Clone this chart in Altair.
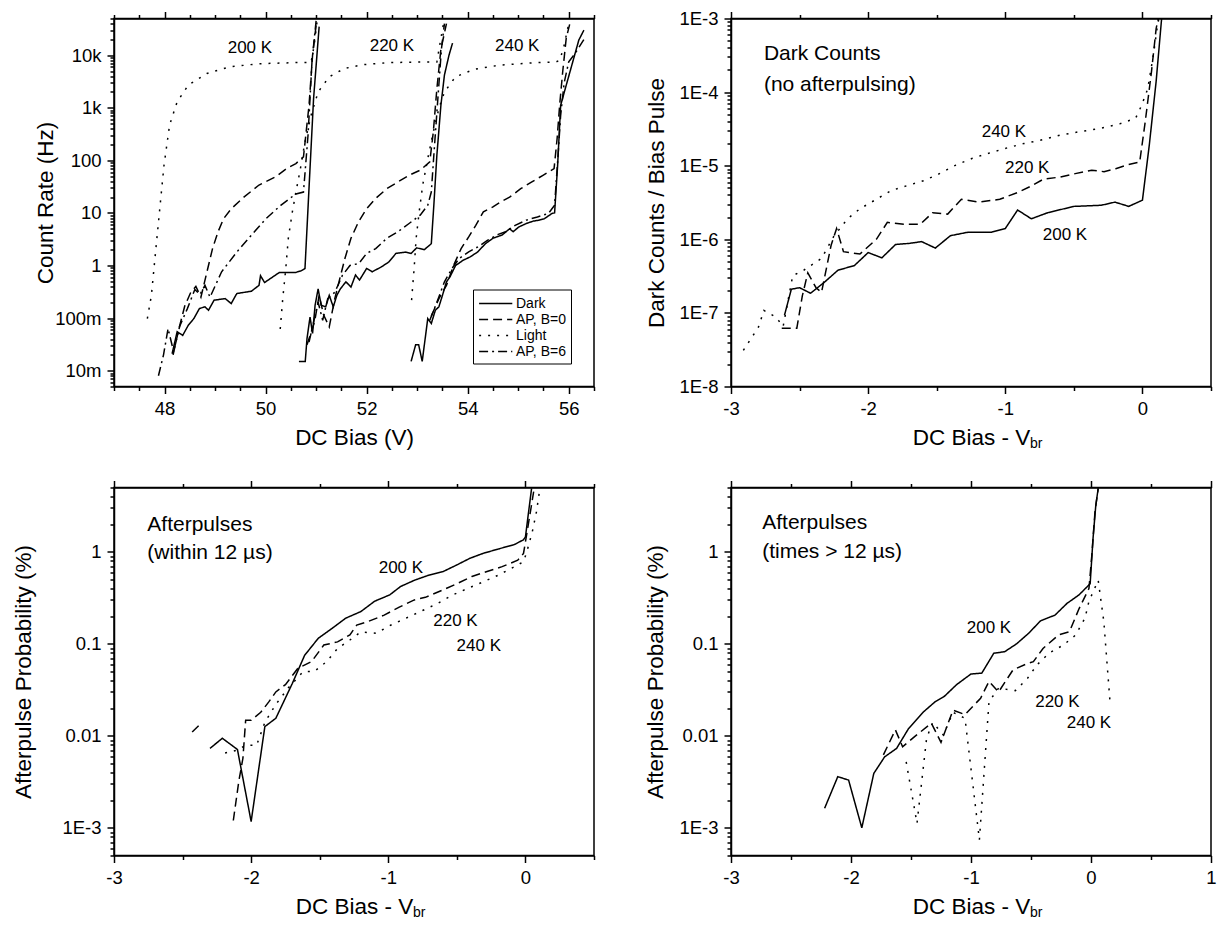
import altair as alt
import pandas as pd

FONT = "Liberation Sans"
W = 480
H = 368

# ---------------- Panel A : Count Rate (Hz) vs DC Bias (V) ----------------
A_DARK_200_X = [48.15, 48.25, 48.36, 48.47, 48.58, 48.69, 48.80, 48.87, 48.98, 49.20, 49.32, 49.43, 49.72, 49.87, 49.90, 49.98, 50.27, 50.60, 50.71, 50.78, 50.86, 50.95, 51.06]
A_DARK_200_Y = [0.021, 0.055, 0.047, 0.073, 0.098, 0.152, 0.164, 0.141, 0.219, 0.235, 0.189, 0.293, 0.325, 0.42, 0.64, 0.475, 0.736, 0.74, 0.80, 0.88, 30, 1500, 35000]
A_APB0_200_X = [48.17, 48.28, 48.40, 48.52, 48.62, 48.72, 48.84, 48.95, 49.06, 49.17, 49.32, 49.57, 49.87, 50.20, 50.42, 50.60, 50.75, 50.86, 50.93, 51.00]
A_APB0_200_Y = [0.02, 0.06, 0.17, 0.31, 0.40, 0.25, 0.76, 2.1, 4.4, 7.8, 12, 20, 34, 49, 70, 87, 117, 1120, 10000, 37000]
A_APB6_200_X = [47.88, 47.98, 48.07, 48.18, 48.30, 48.45, 48.60, 48.70, 48.80, 48.90, 49.13, 49.43, 49.72, 50.01, 50.30, 50.60, 50.75, 50.84, 50.92, 51.00]
A_APB6_200_Y = [0.008, 0.02, 0.063, 0.023, 0.07, 0.15, 0.35, 0.28, 0.42, 0.25, 0.76, 1.8, 3.8, 7.8, 14, 23, 25, 300, 8000, 45000]
A_LIGHT_200_X = [47.66, 47.74, 47.81, 47.90, 47.99, 48.10, 48.25, 48.47, 48.84, 49.28, 49.87, 50.60, 50.90, 50.96, 51.02]
A_LIGHT_200_Y = [0.098, 0.27, 1.36, 10.5, 81, 470, 1300, 2700, 4500, 6000, 6900, 7250, 7300, 15000, 45000]

A_DARK_220_X = [50.66, 50.785, 50.82, 50.88, 50.93, 50.98, 51.04, 51.10, 51.19, 51.26, 51.34, 51.41, 51.48, 51.59, 51.69, 51.78, 51.86, 52.00, 52.11, 52.29, 52.44, 52.58, 52.77, 52.88, 52.99, 53.14, 53.28, 53.33, 53.39, 53.47, 53.54, 53.63, 53.70]
A_DARK_220_Y = [0.015, 0.015, 0.041, 0.105, 0.051, 0.176, 0.36, 0.176, 0.164, 0.27, 0.164, 0.27, 0.36, 0.49, 0.39, 0.66, 0.53, 0.88, 0.76, 0.94, 1.17, 1.7, 1.8, 1.7, 2.17, 2.0, 2.6, 14, 125, 1120, 4200, 10000, 17000]
A_APB0_220_X = [50.82, 50.97, 51.06, 51.15, 51.26, 51.37, 51.47, 51.57, 51.69, 51.84, 52.00, 52.18, 52.40, 52.62, 52.84, 53.06, 53.25, 53.32, 53.39, 53.47, 53.58]
A_APB0_220_Y = [0.031, 0.085, 0.27, 0.114, 0.068, 0.235, 0.57, 1.36, 3.3, 6.8, 12, 19, 29, 39, 52, 65, 94, 350, 2300, 13000, 40000]
A_APB6_220_X = [50.86, 51.04, 51.13, 51.23, 51.37, 51.52, 51.67, 51.85, 52.00, 52.18, 52.40, 52.62, 52.84, 53.06, 53.21, 53.28, 53.33, 53.41, 53.48, 53.54]
A_APB6_220_Y = [0.035, 0.2, 0.091, 0.235, 0.31, 0.65, 1.0, 1.1, 1.7, 2.1, 3.3, 4.4, 6.3, 9.1, 14, 25, 125, 1500, 13000, 40000]
A_LIGHT_220_X = [50.29, 50.34, 50.40, 50.45, 50.53, 50.60, 50.69, 50.78, 50.90, 51.04, 51.26, 51.56, 51.92, 52.44, 53.17, 53.39, 53.47, 53.54]
A_LIGHT_220_Y = [0.062, 0.235, 0.88, 3.3, 10.5, 25, 70, 225, 720, 2000, 3900, 5600, 6600, 7250, 7450, 7450, 21000, 50000]

A_DARK_240_X = [52.88, 52.97, 53.03, 53.10, 53.21, 53.28, 53.36, 53.43, 53.50, 53.58, 53.65, 53.76, 53.91, 54.05, 54.20, 54.35, 54.50, 54.68, 54.83, 54.90, 55.01, 55.16, 55.30, 55.41, 55.52, 55.67, 55.72, 55.78, 55.84, 56.20, 56.30]
A_DARK_240_Y = [0.015, 0.031, 0.031, 0.015, 0.098, 0.079, 0.141, 0.164, 0.27, 0.49, 0.61, 1.0, 1.26, 1.46, 1.82, 2.6, 3.3, 3.8, 5.0, 4.4, 5.4, 6.3, 7.0, 7.3, 7.8, 9.8, 10, 80, 1120, 19500, 30000]
A_APB0_240_X = [53.28, 53.43, 53.58, 53.72, 53.87, 54.02, 54.16, 54.31, 54.50, 54.64, 54.83, 55.05, 55.27, 55.49, 55.71, 55.77, 55.82, 55.88, 55.95, 56.04]
A_APB0_240_Y = [0.11, 0.235, 0.42, 1.0, 2.1, 3.5, 5.8, 10.5, 13, 16, 20, 29, 39, 52, 70, 260, 1120, 4800, 21000, 47000]
A_APB6_240_X = [53.25, 53.39, 53.54, 53.69, 53.83, 54.02, 54.20, 54.39, 54.57, 54.75, 54.94, 55.16, 55.38, 55.60, 55.72, 55.78, 55.84, 55.91, 56.00, 56.10, 56.20, 56.30]
A_APB6_240_Y = [0.091, 0.2, 0.49, 0.88, 1.36, 1.82, 2.26, 3.0, 3.8, 4.4, 5.8, 7.3, 8.4, 9.8, 14, 94, 720, 3000, 7500, 10000, 14000, 20000]
A_LIGHT_240_X = [52.89, 52.94, 52.98, 53.04, 53.11, 53.21, 53.32, 53.43, 53.54, 53.76, 54.13, 54.64, 55.38, 55.74, 55.82, 55.90, 56.00]
A_LIGHT_240_Y = [0.22, 0.88, 3.3, 10.5, 34, 108, 350, 970, 2000, 3900, 5400, 6500, 7250, 7400, 8000, 14000, 40000]

A_LABEL_T = ["200 K", "220 K", "240 K"]
A_LABEL_X = [49.69, 52.50, 54.98]
A_LABEL_Y = [13800, 15000, 15000]
A_STYLES = ["Dark", "AP, B=0", "Light", "AP, B=6"]

# ---------------- Panel B : Dark counts / bias pulse ----------------
B_200_X = [-2.61, -2.56, -2.50, -2.42, -2.32, -2.22, -2.10, -2.00, -1.90, -1.80, -1.70, -1.61, -1.51, -1.40, -1.27, -1.10, -1.00, -0.91, -0.81, -0.69, -0.50, -0.30, -0.20, -0.10, 0.00, 0.05, 0.10, 0.14]
B_200_Y = [9.3e-8, 2.1e-7, 2.2e-7, 1.85e-7, 2.6e-7, 3.8e-7, 4.4e-7, 6.6e-7, 5.6e-7, 8.5e-7, 8.8e-7, 9.3e-7, 7.6e-7, 1.12e-6, 1.25e-6, 1.25e-6, 1.4e-6, 2.5e-6, 1.9e-6, 2.3e-6, 2.8e-6, 2.9e-6, 3.2e-6, 2.8e-6, 3.4e-6, 1.9e-5, 1.4e-4, 1e-3]
B_220_X = [-2.63, -2.52, -2.48, -2.44, -2.38, -2.34, -2.27, -2.23, -2.18, -2.06, -1.94, -1.86, -1.74, -1.62, -1.53, -1.42, -1.32, -1.19, -1.04, -0.90, -0.81, -0.72, -0.60, -0.49, -0.37, -0.28, -0.195, -0.107, -0.02, 0.02, 0.066, 0.10, 0.12]
B_220_Y = [6.2e-8, 6.2e-8, 1.7e-7, 3.5e-7, 2.2e-7, 1.9e-7, 8.3e-7, 1.4e-6, 6.8e-7, 6.3e-7, 1.0e-6, 1.7e-6, 1.6e-6, 1.6e-6, 2.3e-6, 2.2e-6, 3.5e-6, 3.2e-6, 3.5e-6, 4.4e-6, 5.3e-6, 6.6e-6, 7.0e-6, 7.8e-6, 8.7e-6, 8.3e-6, 9.1e-6, 1.03e-5, 1.12e-5, 3.9e-5, 1.9e-4, 7.3e-4, 1.1e-3]
B_240_X = [-2.91, -2.80, -2.76, -2.67, -2.62, -2.55, -2.47, -2.34, -2.25, -2.15, -2.06, -1.94, -1.83, -1.71, -1.59, -1.48, -1.36, -1.24, -1.13, -1.01, -0.865, -0.75, -0.60, -0.457, -0.31, -0.166, -0.05, -0.006, 0.038, 0.08, 0.11, 0.125]
B_240_Y = [3.1e-8, 6.4e-8, 1.08e-7, 8.7e-8, 6.5e-8, 3.2e-7, 3.8e-7, 5.5e-7, 1.1e-6, 1.9e-6, 2.6e-6, 3.5e-6, 4.6e-6, 5.4e-6, 6.3e-6, 7.8e-6, 1.02e-5, 1.26e-5, 1.46e-5, 1.7e-5, 2.0e-5, 2.2e-5, 2.6e-5, 2.9e-5, 3.2e-5, 3.7e-5, 4.4e-5, 6.6e-5, 1.1e-4, 3.2e-4, 8.1e-4, 1.1e-3]
B_LABEL_T = ["240 K", "220 K", "200 K"]
B_LABEL_X = [-1.01, -0.84, -0.565]
B_LABEL_Y = [2.9e-5, 9.3e-6, 1.15e-6]
B_NOTE_T = ["Dark Counts", "(no afterpulsing)"]
B_NOTE_X = [-2.76, -2.76]
B_NOTE_Y = [3.3e-4, 1.23e-4]

# ---------------- Panel C : Afterpulses within 12 us ----------------
C_200_X = [-2.30, -2.21, -2.10, -2.00, -1.90, -1.82, -1.70, -1.61, -1.51, -1.41, -1.31, -1.20, -1.10, -0.99, -0.91, -0.81, -0.70, -0.60, -0.50, -0.405, -0.31, -0.20, -0.08, -0.015, 0.00, 0.02, 0.045]
C_200_Y = [7.3e-3, 9.4e-3, 7.1e-3, 1.17e-3, 0.0126, 0.0155, 0.037, 0.075, 0.115, 0.147, 0.19, 0.224, 0.29, 0.34, 0.42, 0.49, 0.56, 0.61, 0.72, 0.85, 0.96, 1.07, 1.2, 1.35, 1.45, 2.5, 4.9]
C_220A_X = [-2.43, -2.38]
C_220A_Y = [0.011, 0.013]
C_220_X = [-2.13, -2.09, -2.06, -2.04, -2.00, -1.93, -1.87, -1.82, -1.75, -1.66, -1.56, -1.47, -1.37, -1.28, -1.23, -1.15, -1.03, -0.92, -0.81, -0.73, -0.61, -0.50, -0.39, -0.28, -0.17, -0.056, -0.014, 0.00, 0.04, 0.06]
C_220_Y = [1.2e-3, 3.2e-3, 5.7e-3, 0.0148, 0.0148, 0.018, 0.0235, 0.03, 0.036, 0.054, 0.064, 0.097, 0.105, 0.125, 0.16, 0.174, 0.205, 0.25, 0.30, 0.32, 0.38, 0.45, 0.54, 0.61, 0.69, 0.81, 0.96, 1.28, 2.95, 4.5]
C_240_X = [-2.19, -2.10, -2.04, -1.96, -1.90, -1.82, -1.73, -1.62, -1.54, -1.45, -1.37, -1.28, -1.20, -1.09, -0.98, -0.87, -0.75, -0.64, -0.53, -0.42, -0.31, -0.195, -0.08, -0.014, 0.01, 0.05, 0.08, 0.10]
C_240_Y = [6.5e-3, 7.0e-3, 7.9e-3, 7.9e-3, 0.014, 0.022, 0.033, 0.05, 0.05, 0.064, 0.089, 0.11, 0.135, 0.13, 0.16, 0.19, 0.23, 0.275, 0.34, 0.40, 0.47, 0.56, 0.69, 0.78, 1.0, 1.65, 2.7, 4.3]
C_LABEL_T = ["200 K", "220 K", "240 K"]
C_LABEL_X = [-0.908, -0.51, -0.34]
C_LABEL_Y = [0.66, 0.178, 0.095]
C_NOTE_T = ["Afterpulses", "(within 12 \u00b5s)"]
C_NOTE_X = [-2.757, -2.757]
C_NOTE_Y = [1.95, 0.96]

# ---------------- Panel D : Afterpulses times > 12 us ----------------
D_200_X = [-2.22, -2.11, -2.02, -1.91, -1.81, -1.72, -1.62, -1.52, -1.40, -1.30, -1.22, -1.12, -1.00, -0.91, -0.81, -0.72, -0.62, -0.52, -0.42, -0.30, -0.20, -0.10, -0.007, 0.017, 0.04, 0.06]
D_200_Y = [1.63e-3, 3.6e-3, 3.3e-3, 1.0e-3, 3.9e-3, 5.9e-3, 7.3e-3, 0.012, 0.018, 0.0234, 0.027, 0.036, 0.047, 0.048, 0.079, 0.082, 0.10, 0.13, 0.178, 0.205, 0.275, 0.34, 0.45, 1.4, 3.2, 4.9]
D_220_X = [-1.73, -1.63, -1.57, -1.47, -1.33, -1.25, -1.15, -1.05, -0.92, -0.85, -0.77, -0.65, -0.53, -0.48, -0.40, -0.27, -0.18, -0.10, -0.017, 0.007, 0.033, 0.06]
D_220_Y = [6.2e-3, 0.0116, 7.6e-3, 9.8e-3, 0.0137, 8.5e-3, 0.019, 0.017, 0.0256, 0.039, 0.030, 0.052, 0.061, 0.064, 0.089, 0.125, 0.135, 0.24, 0.40, 0.92, 2.7, 4.9]
D_240_X = [-1.54, -1.45, -1.37, -1.32, -1.23, -1.15, -1.05, -0.93, -0.85, -0.77, -0.63, -0.53, -0.45, -0.35, -0.23, -0.13, -0.05, -0.017, 0.06, 0.107, 0.16]
D_240_Y = [5.2e-3, 1.12e-3, 9.4e-3, 0.014, 0.0102, 0.018, 0.0155, 7.4e-4, 0.0235, 0.033, 0.031, 0.042, 0.059, 0.079, 0.097, 0.124, 0.19, 0.29, 0.49, 0.174, 0.022]
D_LABEL_T = ["200 K", "220 K", "240 K"]
D_LABEL_X = [-0.85, -0.28, -0.017]
D_LABEL_Y = [0.15, 0.0234, 0.0138]
D_NOTE_T = ["Afterpulses", "(times > 12 \u00b5s)"]
D_NOTE_X = [-2.74, -2.74]
D_NOTE_Y = [2.04, 1.0]

TEMPS = ["200 K", "220 K", "240 K"]
SOLID, DASH, DOT, DASHDOT = [1, 0], [9, 5], [2, 7], [9, 4, 2, 4]


def make_df(series):
    rows = []
    for key, grp, xs, ys in series:
        for i, (x, y) in enumerate(zip(xs, ys)):
            rows.append({"key": key, "grp": grp, "x": x, "y": y, "i": i})
    return pd.DataFrame(rows)


def text_df(ts, xs, ys):
    return pd.DataFrame({"t": ts, "x": xs, "y": ys})


def log_values(lo, hi):
    vals = []
    for e in range(-12, 7):
        for m in range(1, 10):
            v = float(f"{m}e{e}")
            if lo * 0.9999 <= v <= hi * 1.0001:
                vals.append(v)
    return vals


MAJ_LOG = "abs(log(datum.value)/LN10 - round(log(datum.value)/LN10)) < 0.001"


def cond_size(test):
    return {"condition": {"test": test, "value": 7}, "value": 4}


def build_panel(df, dash_domain, dash_range, legend, xdom, xticks, x_label_expr, x_major,
                x_title, ydom, y_label_expr, y_title, y_extent, label_df, note_df=None, sub=False):
    xs = alt.Scale(domain=xdom, nice=False, zero=False)
    ys = alt.Scale(type="log", domain=ydom, nice=False)
    yticks = log_values(ydom[0], ydom[1])
    x_axis = alt.Axis(orient="bottom", values=xticks, labelExpr=x_label_expr,
                      tickSize=cond_size(x_major), labelFlush=False, labelOverlap=False,
                      labelPadding=5.5, minExtent=31, maxExtent=31, titlePadding=8.5,
                      title=x_title, grid=False)
    x_top = alt.Axis(orient="top", values=xticks, labels=False, title=None,
                     tickSize=cond_size(x_major), grid=False)
    y_axis = alt.Axis(orient="left", values=yticks, labelExpr=y_label_expr,
                      tickSize=cond_size(MAJ_LOG), labelOverlap=False, labelFlush=False,
                      labelPadding=6, minExtent=y_extent, maxExtent=y_extent,
                      titlePadding=0, title=y_title, grid=False)
    lines = alt.Chart(df).mark_line(color="black", strokeWidth=1.5, clip=True).encode(
        x=alt.X("x:Q", scale=xs, axis=x_axis),
        y=alt.Y("y:Q", scale=ys, axis=y_axis),
        detail="key:N",
        order="i:Q",
        strokeDash=alt.StrokeDash("grp:N", scale=alt.Scale(domain=dash_domain, range=dash_range),
                                  legend=legend),
    )
    frame = alt.Chart(pd.DataFrame({"x": [xdom[0]], "y": [ydom[0]]})).mark_point(
        opacity=0, clip=True).encode(
        x=alt.X("x:Q", scale=xs, axis=x_top),
        y=alt.Y("y:Q", scale=ys, axis=None),
    )
    labels = alt.Chart(label_df).mark_text(font=FONT, fontSize=17, color="black",
                                           align="center", baseline="middle").encode(
        x=alt.X("x:Q", scale=xs, axis=None),
        y=alt.Y("y:Q", scale=ys, axis=None),
        text="t:N",
    )
    layers = [lines, frame, labels]
    if note_df is not None:
        notes = alt.Chart(note_df).mark_text(font=FONT, fontSize=21, color="black",
                                             align="left", baseline="middle").encode(
            x=alt.X("x:Q", scale=xs, axis=None),
            y=alt.Y("y:Q", scale=ys, axis=None),
            text="t:N",
        )
        layers.append(notes)
    if sub:
        subs = alt.Chart(pd.DataFrame({"t": ["br"]})).mark_text(
            font=FONT, fontSize=14, color="black", align="left", baseline="alphabetic").encode(
            x=alt.value(W / 2 + 59), y=alt.value(H + 61.5), text="t:N")
        layers.append(subs)
    return alt.layer(*layers).resolve_axis(x="independent", y="independent").properties(
        width=W, height=H)


# ---- Panel A ----
dfA = make_df([
    ("d200", "Dark", A_DARK_200_X, A_DARK_200_Y),
    ("a200", "AP, B=0", A_APB0_200_X, A_APB0_200_Y),
    ("l200", "Light", A_LIGHT_200_X, A_LIGHT_200_Y),
    ("b200", "AP, B=6", A_APB6_200_X, A_APB6_200_Y),
    ("d220", "Dark", A_DARK_220_X, A_DARK_220_Y),
    ("a220", "AP, B=0", A_APB0_220_X, A_APB0_220_Y),
    ("l220", "Light", A_LIGHT_220_X, A_LIGHT_220_Y),
    ("b220", "AP, B=6", A_APB6_220_X, A_APB6_220_Y),
    ("d240", "Dark", A_DARK_240_X, A_DARK_240_Y),
    ("a240", "AP, B=0", A_APB0_240_X, A_APB0_240_Y),
    ("l240", "Light", A_LIGHT_240_X, A_LIGHT_240_Y),
    ("b240", "AP, B=6", A_APB6_240_X, A_APB6_240_Y),
])
legendA = alt.Legend(title=None, orient="none", legendX=359, legendY=271,
                     symbolType="M-1,0H3.2", symbolSize=250, symbolStrokeWidth=1.5,
                     symbolStrokeColor="black", labelFontSize=14, labelFont=FONT,
                     labelColor="black", labelOffset=20, rowPadding=0, padding=5,
                     strokeColor="black", fillColor="white", cornerRadius=0)
A_XTICKS = [47 + 0.5 * k for k in range(20)]
pA = build_panel(
    dfA, A_STYLES, [SOLID, DASH, DOT, DASHDOT], legendA,
    [47, 56.5], A_XTICKS, "datum.value % 2 == 0 ? '' + datum.value : ''", "datum.value % 2 == 0",
    "DC Bias (V)", [0.005, 50000],
    MAJ_LOG + " ? ['10m','100m','1','10','100','1k','10k'][round(log(datum.value)/LN10)+2] : ''",
    "Count Rate (Hz)", 57, text_df(A_LABEL_T, A_LABEL_X, A_LABEL_Y))

# ---- Panel B ----
dfB = make_df([
    ("s200", "200 K", B_200_X, B_200_Y),
    ("s220", "220 K", B_220_X, B_220_Y),
    ("s240", "240 K", B_240_X, B_240_Y),
])
BC_XTICKS = [-3 + 0.5 * k for k in range(8)]
INT_EXPR = "datum.value == round(datum.value) ? '' + datum.value : ''"
INT_TEST = "datum.value == round(datum.value)"
pB = build_panel(
    dfB, TEMPS, [SOLID, DASH, DOT], None,
    [-3, 0.5], BC_XTICKS, INT_EXPR, INT_TEST, "DC Bias - V", [1e-8, 1e-3],
    MAJ_LOG + " ? '1E' + round(log(datum.value)/LN10) : ''",
    "Dark Counts / Bias Pulse", 63, text_df(B_LABEL_T, B_LABEL_X, B_LABEL_Y),
    text_df(B_NOTE_T, B_NOTE_X, B_NOTE_Y), sub=True)

# ---- Panel C ----
dfC = make_df([
    ("s200", "200 K", C_200_X, C_200_Y),
    ("s220a", "220 K", C_220A_X, C_220A_Y),
    ("s220", "220 K", C_220_X, C_220_Y),
    ("s240", "240 K", C_240_X, C_240_Y),
])
AP_EXPR = MAJ_LOG + " ? ['1E-3','0.01','0.1','1'][round(log(datum.value)/LN10)+3] : ''"
pC = build_panel(
    dfC, TEMPS, [SOLID, DASH, DOT], None,
    [-3, 0.5], BC_XTICKS, INT_EXPR, INT_TEST, "DC Bias - V", [5e-4, 5],
    AP_EXPR, "Afterpulse Probability (%)", 79, text_df(C_LABEL_T, C_LABEL_X, C_LABEL_Y),
    text_df(C_NOTE_T, C_NOTE_X, C_NOTE_Y), sub=True)

# ---- Panel D ----
dfD = make_df([
    ("s200", "200 K", D_200_X, D_200_Y),
    ("s220", "220 K", D_220_X, D_220_Y),
    ("s240", "240 K", D_240_X, D_240_Y),
])
D_XTICKS = [-3 + 0.5 * k for k in range(9)]
pD = build_panel(
    dfD, TEMPS, [SOLID, DASH, DOT], None,
    [-3, 1], D_XTICKS, INT_EXPR, INT_TEST, "DC Bias - V", [5e-4, 5],
    AP_EXPR, "Afterpulse Probability (%)", 64, text_df(D_LABEL_T, D_LABEL_X, D_LABEL_Y),
    text_df(D_NOTE_T, D_NOTE_X, D_NOTE_Y), sub=True)

chart = alt.concat(pA, pB, pC, pD, columns=2, spacing={"row": 101, "column": 137},
                   bounds="flush").resolve_scale(strokeDash="independent").properties(
    padding={"left": 3, "top": 0.5, "right": 0, "bottom": -1}
).configure(font=FONT).configure_view(
    stroke="black", strokeWidth=1.5
).configure_axis(
    labelFont=FONT, labelFontSize=18.5, labelColor="black",
    titleFont=FONT, titleFontSize=22.5, titleFontWeight="normal", titleColor="black",
    domainColor="black", domainWidth=1.5, tickColor="black", tickWidth=1.5,
)

chart.save("out.html", embed_options={"renderer": "svg", "actions": False})
